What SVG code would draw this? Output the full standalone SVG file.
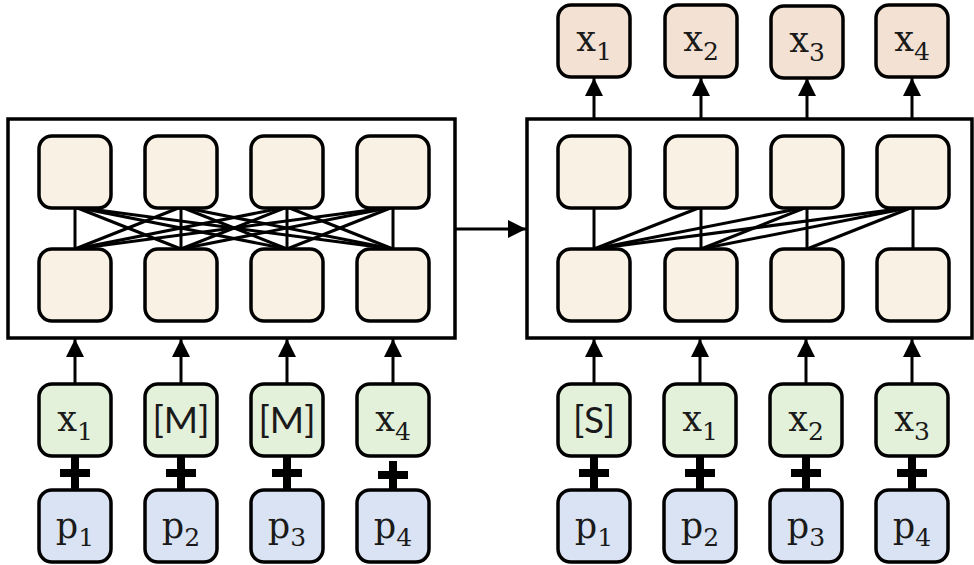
<svg xmlns="http://www.w3.org/2000/svg" width="974" height="565" viewBox="0 0 974 565">
  <style>
    .frame { fill: #ffffff; stroke: #000; stroke-width: 3.5; }
    .box { stroke: #000; stroke-width: 3.5; }
    .hid { fill: #f9f1e4; }
    .out { fill: #f3e2d4; }
    .tok { fill: #e3f0da; }
    .pos { fill: #dae3f3; }
    .link { stroke: #000; stroke-width: 3; fill: none; }
    .arr { stroke: #000; stroke-width: 3; fill: none; marker-end: url(#head); }
    .plus { stroke: #000; stroke-width: 8; fill: none; }
    .lbl { font-family: "DejaVu Serif", "Liberation Serif", serif; font-size: 35px; fill: #1a1a1a; }
    .sub { font-size: 25px; }
    .br { font-family: Lato, "Liberation Sans", sans-serif; font-size: 37px; fill: #1a1a1a; }
  </style>
  <defs>
    <marker id="head" viewBox="0 0 10 10" refX="10" refY="5" markerWidth="18" markerHeight="18" markerUnits="userSpaceOnUse" orient="auto">
      <path d="M0,0 L10,5 L0,10 Z" fill="#000"/>
    </marker>
    <rect id="cell" width="72" height="72" rx="13" ry="13"/>
  </defs>

  <!-- encoder panel (bidirectional) -->
  <g id="encoder">
    <rect class="frame" x="8" y="119" width="447" height="219"/>
  </g>
  <!-- decoder panel (causal) -->
  <g id="decoder">
    <rect class="frame" x="527" y="119" width="445" height="219"/>
  </g>

  <!-- connectors -->
  <g id="connectors">
    <!-- left: every lower unit feeds every upper unit -->
    <line class="link" x1="75" y1="207" x2="75" y2="249"/>
    <line class="link" x1="75" y1="207" x2="181" y2="249"/>
    <line class="link" x1="75" y1="207" x2="287" y2="249"/>
    <line class="link" x1="75" y1="207" x2="393" y2="249"/>
    <line class="link" x1="181" y1="207" x2="75" y2="249"/>
    <line class="link" x1="181" y1="207" x2="181" y2="249"/>
    <line class="link" x1="181" y1="207" x2="287" y2="249"/>
    <line class="link" x1="181" y1="207" x2="393" y2="249"/>
    <line class="link" x1="287" y1="207" x2="75" y2="249"/>
    <line class="link" x1="287" y1="207" x2="181" y2="249"/>
    <line class="link" x1="287" y1="207" x2="287" y2="249"/>
    <line class="link" x1="287" y1="207" x2="393" y2="249"/>
    <line class="link" x1="393" y1="207" x2="75" y2="249"/>
    <line class="link" x1="393" y1="207" x2="181" y2="249"/>
    <line class="link" x1="393" y1="207" x2="287" y2="249"/>
    <line class="link" x1="393" y1="207" x2="393" y2="249"/>
    <!-- right: each upper unit sees only itself and earlier positions -->
    <line class="link" x1="594" y1="207" x2="594" y2="249"/>
    <line class="link" x1="701" y1="207" x2="701" y2="249"/>
    <line class="link" x1="807" y1="207" x2="807" y2="249"/>
    <line class="link" x1="913" y1="207" x2="913" y2="249"/>
    <line class="link" x1="701" y1="207" x2="594" y2="249"/>
    <line class="link" x1="807" y1="207" x2="594" y2="249"/>
    <line class="link" x1="807" y1="207" x2="701" y2="249"/>
    <line class="link" x1="913" y1="207" x2="594" y2="249"/>
    <line class="link" x1="913" y1="207" x2="701" y2="249"/>
    <line class="link" x1="913" y1="207" x2="807" y2="249"/>
    <!-- panel to panel -->
    <line class="arr" x1="455" y1="229" x2="526" y2="229"/>
    <!-- outputs -->
    <line class="arr" x1="594" y1="119" x2="594" y2="78"/>
    <line class="arr" x1="701" y1="119" x2="701" y2="78"/>
    <line class="arr" x1="807" y1="119" x2="807" y2="78"/>
    <line class="arr" x1="912" y1="119" x2="912" y2="78"/>
    <!-- inputs -->
    <line class="arr" x1="75" y1="384" x2="75" y2="339"/>
    <line class="arr" x1="181" y1="384" x2="181" y2="339"/>
    <line class="arr" x1="287" y1="384" x2="287" y2="339"/>
    <line class="arr" x1="393" y1="384" x2="393" y2="339"/>
    <line class="arr" x1="594" y1="384" x2="594" y2="339"/>
    <line class="arr" x1="700" y1="384" x2="700" y2="339"/>
    <line class="arr" x1="806" y1="384" x2="806" y2="339"/>
    <line class="arr" x1="912" y1="384" x2="912" y2="339"/>
    <!-- token + position -->
    <path class="plus" d="M75,457 V490 M60,473 H90"/>
    <path class="plus" d="M181,457 V490 M166,473 H196"/>
    <path class="plus" d="M287,457 V490 M272,473 H302"/>
    <path class="plus" d="M393,461 V490 M378,475 H408"/>
    <path class="plus" d="M594,457 V490 M579,473 H609"/>
    <path class="plus" d="M700,457 V490 M685,473 H715"/>
    <path class="plus" d="M806,457 V490 M791,473 H821"/>
    <path class="plus" d="M912,457 V490 M897,473 H927"/>
  </g>

  <!-- hidden units, left -->
  <g id="enc-top"><use href="#cell" class="box hid" x="39" y="136"/><use href="#cell" class="box hid" x="145" y="136"/><use href="#cell" class="box hid" x="251" y="136"/><use href="#cell" class="box hid" x="357" y="136"/></g>
  <g id="enc-bottom"><use href="#cell" class="box hid" x="39" y="249"/><use href="#cell" class="box hid" x="145" y="249"/><use href="#cell" class="box hid" x="251" y="249"/><use href="#cell" class="box hid" x="357" y="249"/></g>
  <!-- hidden units, right -->
  <g id="dec-top"><use href="#cell" class="box hid" x="558" y="136"/><use href="#cell" class="box hid" x="665" y="136"/><use href="#cell" class="box hid" x="771" y="136"/><use href="#cell" class="box hid" x="877" y="136"/></g>
  <g id="dec-bottom"><use href="#cell" class="box hid" x="558" y="249"/><use href="#cell" class="box hid" x="665" y="249"/><use href="#cell" class="box hid" x="771" y="249"/><use href="#cell" class="box hid" x="877" y="249"/></g>

  <!-- predicted outputs -->
  <g id="out1"><use href="#cell" class="box out" x="558" y="5"/><text class="lbl" x="594" y="51" text-anchor="middle">x<tspan class="sub" dy="9">1</tspan></text></g>
  <g id="out2"><use href="#cell" class="box out" x="665" y="5"/><text class="lbl" x="701" y="51" text-anchor="middle">x<tspan class="sub" dy="9">2</tspan></text></g>
  <g id="out3"><use href="#cell" class="box out" x="771" y="6"/><text class="lbl" x="807" y="52" text-anchor="middle">x<tspan class="sub" dy="9">3</tspan></text></g>
  <g id="out4"><use href="#cell" class="box out" x="876" y="5"/><text class="lbl" x="912" y="51" text-anchor="middle">x<tspan class="sub" dy="9">4</tspan></text></g>

  <!-- token inputs, left -->
  <g id="tokL1"><use href="#cell" class="box tok" x="39" y="384"/><text class="lbl" x="75" y="431" text-anchor="middle">x<tspan class="sub" dy="9">1</tspan></text></g>
  <g id="tokL2"><use href="#cell" class="box tok" x="145" y="384"/><text class="br" x="181" y="433" text-anchor="middle">[M]</text></g>
  <g id="tokL3"><use href="#cell" class="box tok" x="251" y="384"/><text class="br" x="287" y="433" text-anchor="middle">[M]</text></g>
  <g id="tokL4"><use href="#cell" class="box tok" x="357" y="384"/><text class="lbl" x="393" y="431" text-anchor="middle">x<tspan class="sub" dy="9">4</tspan></text></g>
  <!-- token inputs, right -->
  <g id="tokR1"><use href="#cell" class="box tok" x="558" y="384"/><text class="br" x="594" y="433" text-anchor="middle">[S]</text></g>
  <g id="tokR2"><use href="#cell" class="box tok" x="664" y="384"/><text class="lbl" x="700" y="431" text-anchor="middle">x<tspan class="sub" dy="9">1</tspan></text></g>
  <g id="tokR3"><use href="#cell" class="box tok" x="770" y="384"/><text class="lbl" x="806" y="431" text-anchor="middle">x<tspan class="sub" dy="9">2</tspan></text></g>
  <g id="tokR4"><use href="#cell" class="box tok" x="876" y="384"/><text class="lbl" x="912" y="431" text-anchor="middle">x<tspan class="sub" dy="9">3</tspan></text></g>

  <!-- position inputs, left -->
  <g id="posL1"><use href="#cell" class="box pos" x="39" y="490"/><text class="lbl" x="75" y="538" text-anchor="middle">p<tspan class="sub" dy="8">1</tspan></text></g>
  <g id="posL2"><use href="#cell" class="box pos" x="145" y="490"/><text class="lbl" x="181" y="538" text-anchor="middle">p<tspan class="sub" dy="8">2</tspan></text></g>
  <g id="posL3"><use href="#cell" class="box pos" x="251" y="490"/><text class="lbl" x="287" y="538" text-anchor="middle">p<tspan class="sub" dy="8">3</tspan></text></g>
  <g id="posL4"><use href="#cell" class="box pos" x="357" y="490"/><text class="lbl" x="393" y="538" text-anchor="middle">p<tspan class="sub" dy="8">4</tspan></text></g>
  <!-- position inputs, right -->
  <g id="posR1"><use href="#cell" class="box pos" x="558" y="490"/><text class="lbl" x="594" y="538" text-anchor="middle">p<tspan class="sub" dy="8">1</tspan></text></g>
  <g id="posR2"><use href="#cell" class="box pos" x="664" y="490"/><text class="lbl" x="700" y="538" text-anchor="middle">p<tspan class="sub" dy="8">2</tspan></text></g>
  <g id="posR3"><use href="#cell" class="box pos" x="770" y="490"/><text class="lbl" x="806" y="538" text-anchor="middle">p<tspan class="sub" dy="8">3</tspan></text></g>
  <g id="posR4"><use href="#cell" class="box pos" x="876" y="490"/><text class="lbl" x="912" y="538" text-anchor="middle">p<tspan class="sub" dy="8">4</tspan></text></g>
</svg>
